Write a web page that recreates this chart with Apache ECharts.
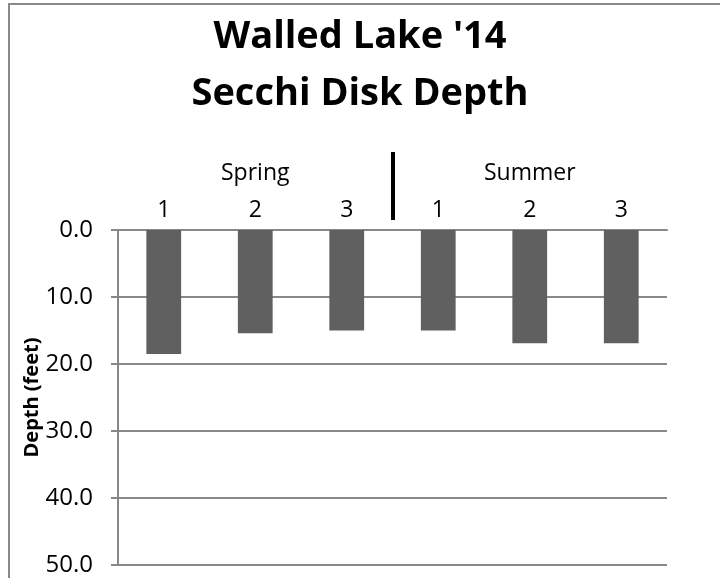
<!DOCTYPE html>
<html>
<head>
<meta charset="utf-8">
<title>Walled Lake '14 Secchi Disk Depth</title>
<script src="https://cdn.jsdelivr.net/npm/echarts@6/dist/echarts.min.js"></script>
<style>
  html, body { margin: 0; padding: 0; background: #fff; }
  #main { width: 720px; height: 578px; }
</style>
</head>
<body>
<div id="main"></div>
<script>
// sampling dates, grouped by season
const categories = ['1', '2', '3', '1', '2', '3'];
const seasons = ['Spring', 'Summer'];
// secchi depth in feet
const depths = [18.5, 15.4, 15.0, 15.0, 16.9, 16.9];
const depthTicks = [0, 10, 20, 30, 40, 50];

const chart = echarts.init(document.getElementById('main'), null, { renderer: 'canvas' });
const font = '"Open Sans", "Noto Sans", sans-serif';

chart.setOption({
  backgroundColor: '#fff',
  animation: false,
  title: {
    text: "Walled Lake '14\nSecchi Disk Depth",
    left: 'center',
    top: 4,
    textStyle: { fontFamily: font, fontSize: 38, fontWeight: 'bold', color: '#000', lineHeight: 57 }
  },
  // chart border (left and top edges visible in the original)
  graphic: [{
    type: 'rect',
    shape: { x: 9, y: 4, width: 760, height: 640 },
    style: { fill: null, stroke: '#888', lineWidth: 2 },
    silent: true
  }],
  grid: { left: 118, right: 53, top: 230, bottom: 13 },
  xAxis: [
    {
      type: 'category',
      position: 'top',
      data: categories,
      axisLine: { show: true, lineStyle: { color: '#888', width: 2 } },
      axisTick: { show: false },
      axisLabel: { fontFamily: font, fontSize: 23, color: '#000', margin: 8 }
    },
    {
      // season groups with a separator between them
      type: 'value',
      position: 'top',
      offset: 10,
      min: 0,
      max: categories.length,
      axisLine: { show: false },
      splitLine: { show: false },
      axisTick: { show: true, customValues: [categories.length / 2], length: 68, lineStyle: { color: '#000', width: 4 } },
      axisLabel: {
        fontFamily: font, fontSize: 23, color: '#000', margin: 35,
        customValues: [categories.length / 4, categories.length * 3 / 4],
        formatter: v => seasons[v < categories.length / 2 ? 0 : 1]
      }
    }
  ],
  yAxis: {
    type: 'value',
    inverse: true,
    min: depthTicks[0],
    max: depthTicks[depthTicks.length - 1],
    interval: 10,
    name: 'Depth (feet)',
    nameLocation: 'middle',
    nameGap: 76,
    nameMoveOverlap: false,
    nameTextStyle: { fontFamily: font, fontSize: 20, fontWeight: 'bold', color: '#000' },
    axisLine: { show: true, lineStyle: { color: '#888', width: 2 } },
    axisTick: { show: true, length: 7, lineStyle: { color: '#888', width: 2 } },
    axisLabel: { fontFamily: font, fontSize: 24, color: '#000', margin: 25, formatter: v => v.toFixed(1) },
    splitLine: { show: true, lineStyle: { color: '#888', width: 2 } }
  },
  series: [{
    type: 'bar',
    data: depths,
    barWidth: '38%',
    itemStyle: { color: '#606060' }
  }]
});
</script>
</body>
</html>
